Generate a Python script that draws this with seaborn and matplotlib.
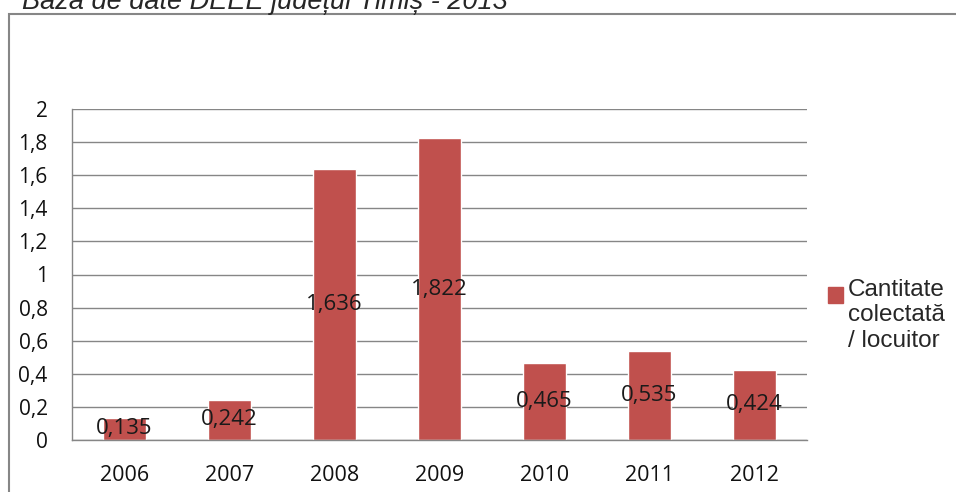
import numpy as np
import pandas as pd
import matplotlib
matplotlib.use('Agg')
import matplotlib.pyplot as plt
import seaborn as sns
from matplotlib.patches import Rectangle

years = ['2006', '2007', '2008', '2009', '2010', '2011', '2012']
values = [0.135, 0.242, 1.636, 1.822, 0.465, 0.535, 0.424]
y_ticks = [0, 0.2, 0.4, 0.6, 0.8, 1.0, 1.2, 1.4, 1.6, 1.8, 2.0]
series_name = 'Cantitate\ncolectată\n/ locuitor'
title = 'Baza de date DEEE județul Timiș - 2013'

bar_color = '#C0504D'
grid_color = '#868686'


def fmt(v):
    return ('%g' % v).replace('.', ',')


def plot_chart(df):
    sns.set_style('white')
    fig = plt.figure(figsize=(9.56, 4.92), dpi=100)
    # zona graficului (pixeli: x 72..807, y 109..440)
    ax = fig.add_axes([72 / 956, 52 / 492, 735 / 956, 331 / 492])

    sns.barplot(x='year', y='value', data=df, color=bar_color,
                width=0.41, saturation=1, ax=ax)

    ax.set_ylim(0, 2)
    ax.set_xlim(-0.5, len(years) - 0.5)
    ax.set_yticks(y_ticks)
    ax.set_yticklabels([fmt(v) for v in y_ticks], fontfamily='Open Sans',
                       fontsize=15, color='#111111')
    ax.set_xticks(range(len(years)))
    ax.set_xticklabels(years, fontfamily='Open Sans', fontsize=15.5, color='#111111')
    ax.set_xticks(np.arange(-0.5, len(years)), minor=True)
    ax.tick_params(axis='x', which='major', length=0, pad=18)
    ax.tick_params(axis='x', which='minor', length=6.5, width=1, color=grid_color, direction='out')
    ax.tick_params(axis='y', length=6.5, width=1, color=grid_color, direction='out', pad=11)
    ax.set_xlabel('')
    ax.set_ylabel('')

    ax.grid(axis='y', color=grid_color, linewidth=1)
    ax.set_axisbelow(True)
    for side in ['top', 'right']:
        ax.spines[side].set_visible(False)
    for side in ['left', 'bottom']:
        ax.spines[side].set_color(grid_color)
        ax.spines[side].set_linewidth(1)

    # etichete in mijlocul barelor
    for i, v in enumerate(values):
        ax.text(i, v / 2, fmt(v), ha='center', va='center',
                fontfamily='Open Sans', fontsize=16, color='#1a1a1a')

    # cadrul graficului
    fig.patches.append(Rectangle((9 / 956, -0.05), 1.0, (492 - 14) / 492 + 0.05,
                                 transform=fig.transFigure, fill=False,
                                 edgecolor='#868686', linewidth=1.5))

    # titlul (taiat sus, ca in original)
    fig.text(22 / 956, 1 - 9 / 492, title, fontfamily='Liberation Sans',
             style='italic', fontsize=19.5, va='baseline', ha='left')

    # legenda
    fig.patches.append(Rectangle((828 / 956, 1 - 303 / 492), 15 / 956, 16 / 492,
                                 transform=fig.transFigure, color=bar_color))
    fig.text(848 / 956, 1 - 279 / 492, series_name, fontfamily='Liberation Sans',
             fontsize=17.5, va='top', ha='left', linespacing=1.2)

    fig.savefig('out.png', dpi=100)


if __name__ == "__main__":
    df = pd.DataFrame({'year': years, 'value': values})
    plot_chart(df)
